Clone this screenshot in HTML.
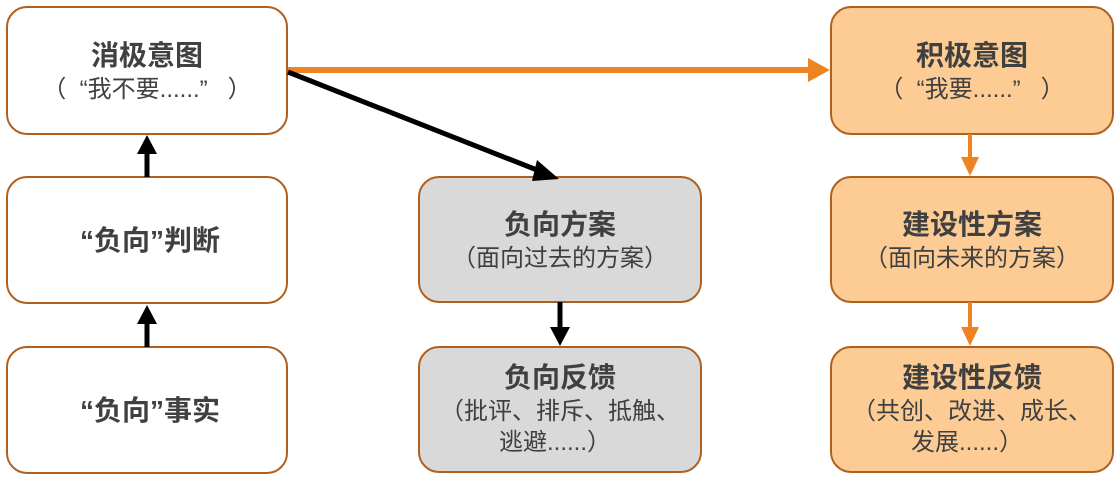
<!DOCTYPE html>
<html><head><meta charset="utf-8"><style>
body{margin:0;background:#fff;width:1118px;height:480px;overflow:hidden}
svg text{font-family:"Liberation Sans","Noto Sans CJK SC",sans-serif;fill:#404040;text-anchor:middle;white-space:pre}
.t{font-size:28px;font-weight:bold}
.s{font-size:24px}
</style></head><body>
<svg width="1118" height="480" viewBox="0 0 1118 480">
<g stroke="#b0601e" stroke-width="2">
<rect x="7" y="7" width="280" height="127" rx="20" fill="#fff"/>
<rect x="7" y="177" width="280" height="126" rx="20" fill="#fff"/>
<rect x="7" y="347" width="280" height="126" rx="20" fill="#fff"/>
<rect x="419" y="177" width="282" height="125" rx="20" fill="#d9d9d9"/>
<rect x="419" y="347" width="282" height="125" rx="20" fill="#d9d9d9"/>
<rect x="831" y="7" width="282" height="127" rx="20" fill="#fdcc95"/>
<rect x="831" y="177" width="282" height="125" rx="20" fill="#fdcc95"/>
<rect x="831" y="347" width="282" height="125" rx="20" fill="#fdcc95"/>
</g>
<line x1="288" y1="70" x2="810" y2="70" stroke="#ee8322" stroke-width="6"/>
<polygon points="808,58 830,70 808,82" fill="#ee8322"/>
<line x1="288" y1="72" x2="542" y2="172" stroke="#000" stroke-width="5"/>
<polygon points="537,160 559,179 532,181" fill="#000"/>
<line x1="147" y1="177" x2="147" y2="152" stroke="#000" stroke-width="5"/>
<polygon points="137,154 147,135 157,154" fill="#000"/>
<line x1="147" y1="347" x2="147" y2="322" stroke="#000" stroke-width="5"/>
<polygon points="137,324 147,305 157,324" fill="#000"/>
<line x1="560" y1="302" x2="560" y2="330" stroke="#000" stroke-width="5"/>
<polygon points="550,327 560,346 570,327" fill="#000"/>
<line x1="970" y1="134" x2="970" y2="160" stroke="#ee8322" stroke-width="4"/>
<polygon points="961,157 970,176 979,157" fill="#ee8322"/>
<line x1="970" y1="302" x2="970" y2="330" stroke="#ee8322" stroke-width="4"/>
<polygon points="961,327 970,346 979,327" fill="#ee8322"/>
<text class="t" x="147" y="65">消极意图</text>
<text class="s" x="147" y="97" xml:space="preserve">（  “我不要......”   ）</text>
<text class="t" x="150" y="250">“负向”判断</text>
<text class="t" x="150" y="420">“负向”事实</text>
<text class="t" x="560" y="234">负向方案</text>
<text class="s" x="560" y="266">（面向过去的方案）</text>
<text class="t" x="560" y="387">负向反馈</text>
<text class="s" x="560" y="419">（批评、排斥、抵触、</text>
<text class="s" x="555" y="450">逃避......）</text>
<text class="t" x="972" y="65">积极意图</text>
<text class="s" x="972" y="97" xml:space="preserve">（  “我要......”   ）</text>
<text class="t" x="972" y="234">建设性方案</text>
<text class="s" x="972" y="266">（面向未来的方案）</text>
<text class="t" x="972" y="387">建设性反馈</text>
<text class="s" x="972" y="419">（共创、改进、成长、</text>
<text class="s" x="967" y="450">发展......）</text>
</svg>
</body></html>
